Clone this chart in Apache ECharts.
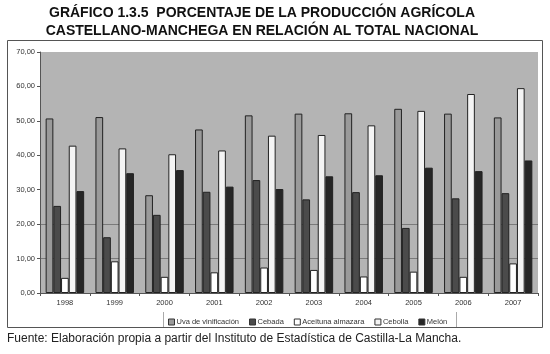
<!DOCTYPE html>
<html>
<head>
<meta charset="utf-8">
<script src="https://cdn.jsdelivr.net/npm/echarts@6/dist/echarts.min.js"></script>
<style>
  html, body { margin: 0; padding: 0; background: #fff; }
  #chart { width: 550px; height: 354px; }
</style>
</head>
<body>
<div id="chart"></div>
<script>
// años
const years = ['1998', '1999', '2000', '2001', '2002', '2003', '2004', '2005', '2006', '2007']

// % sobre el total nacional
const uva = [50.7, 51.1, 28.4, 47.5, 51.6, 52.1, 52.2, 53.5, 52.1, 51.0]
const cebada = [25.3, 16.2, 22.7, 29.4, 32.8, 27.2, 29.3, 18.9, 27.5, 29.0]
const aceituna = [4.4, 9.2, 4.7, 6.0, 7.4, 6.7, 4.8, 6.2, 4.7, 8.6]
const cebolla = [42.8, 42.0, 40.3, 41.4, 45.7, 45.9, 48.7, 52.9, 57.8, 59.5]
const melon = [29.6, 34.8, 35.7, 30.9, 30.2, 33.9, 34.2, 36.4, 35.4, 38.5]

const names = ['Uva de vinificación', 'Cebada', 'Aceituna almazara', 'Cebolla', 'Melón']
const colors = ['#9a9a9a', '#4b4b4b', '#ffffff', '#f4f4f4', '#262626']

const font = 'Liberation Sans, Arial, sans-serif'

const chart = echarts.init(document.getElementById('chart'))

function bar(name, data, color) {
  return {
    name: name,
    type: 'bar',
    data: data,
    barWidth: 7.7,
    barGap: '0%',
    itemStyle: { color: color, borderColor: '#222', borderWidth: 1 }
  }
}

chart.setOption({
  animation: false,
  textStyle: { fontFamily: font },
  graphic: [
    {
      type: 'text',
      x: 262, y: 4,
      style: {
        text: 'GRÁFICO 1.3.5  PORCENTAJE DE LA PRODUCCIÓN AGRÍCOLA\nCASTELLANO-MANCHEGA EN RELACIÓN AL TOTAL NACIONAL',
        font: 'bold 14px ' + font,
        fill: '#111',
        align: 'center',
        lineHeight: 18
      }
    },
    {
      type: 'rect',
      shape: { x: 7.5, y: 40.5, width: 535, height: 287 },
      style: { fill: 'none', stroke: '#555', lineWidth: 1 },
      z: -1
    },
    {
      type: 'line',
      shape: { x1: 163.5, y1: 312, x2: 163.5, y2: 327 },
      style: { stroke: '#aaa', lineWidth: 1 }
    },
    {
      type: 'line',
      shape: { x1: 456.5, y1: 312, x2: 456.5, y2: 327 },
      style: { stroke: '#aaa', lineWidth: 1 }
    },
    {
      type: 'text',
      x: 7, y: 333,
      style: {
        text: 'Fuente: Elaboración propia a partir del Instituto de Estadística de Castilla-La Mancha.',
        font: '12px ' + font,
        fill: '#222'
      }
    }
  ],
  legend: {
    data: names,
    left: 163,
    top: 313,
    icon: 'rect',
    itemWidth: 6,
    itemHeight: 6,
    itemGap: 10,
    itemStyle: { borderColor: '#333', borderWidth: 1 },
    textStyle: { fontSize: 7.5, color: '#333', padding: [0, 0, 0, -3] }
  },
  grid: {
    left: 40,
    right: 12,
    top: 52,
    bottom: 61,
    show: true,
    backgroundColor: '#b4b4b4',
    borderWidth: 0
  },
  xAxis: {
    type: 'category',
    data: years,
    axisLine: { lineStyle: { color: '#555' } },
    axisTick: { show: true, length: 3, lineStyle: { color: '#555' } },
    axisLabel: { fontSize: 7.5, color: '#333', margin: 6 }
  },
  yAxis: {
    type: 'value',
    min: 0,
    max: 70,
    interval: 10,
    axisLine: { show: true, lineStyle: { color: '#555' } },
    axisTick: { show: true, length: 3, lineStyle: { color: '#555' } },
    axisLabel: {
      fontSize: 7.5,
      color: '#333',
      margin: 5,
      formatter: v => v.toFixed(2).replace('.', ',')
    },
    splitLine: {
      show: true,
      lineStyle: {
        color: ['rgba(0,0,0,0)', '#7a7a7a', '#7a7a7a', 'rgba(0,0,0,0)',
          'rgba(0,0,0,0)', 'rgba(0,0,0,0)', 'rgba(0,0,0,0)', 'rgba(0,0,0,0)']
      }
    }
  },
  series: [
    bar(names[0], uva, colors[0]),
    bar(names[1], cebada, colors[1]),
    bar(names[2], aceituna, colors[2]),
    bar(names[3], cebolla, colors[3]),
    bar(names[4], melon, colors[4])
  ]
})
</script>
</body>
</html>
